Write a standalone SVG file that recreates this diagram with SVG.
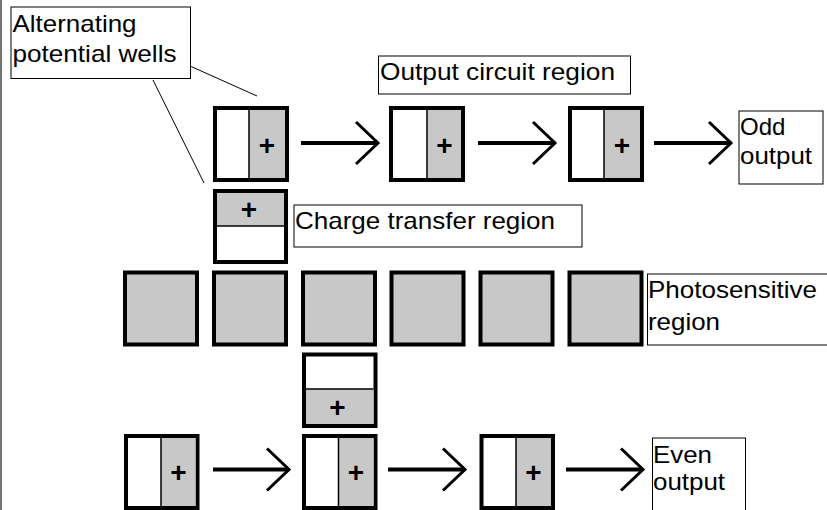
<svg xmlns="http://www.w3.org/2000/svg" width="827" height="510" viewBox="0 0 827 510">
<defs>
<style>
.lbl{fill:#fff;stroke:#000;stroke-width:1}
.t{font-family:"Liberation Sans",Arial,sans-serif;font-size:24px;fill:#000}
.plus{font-family:"Liberation Sans",Arial,sans-serif;font-size:28px;font-weight:bold;fill:#000;text-anchor:middle}
.cell{fill:#fff;stroke:#000;stroke-width:4}
.photo{fill:#c8c8c8;stroke:#000;stroke-width:4}
.gray{fill:#c8c8c8}
.div{stroke:#000;stroke-width:1.5}
.arrow{stroke:#000;stroke-width:4;fill:none;marker-end:url(#chev)}
.leader{stroke:#000;stroke-width:1;fill:none}
</style>
<marker id="chev" markerUnits="userSpaceOnUse" markerWidth="34" markerHeight="52" viewBox="-28 -26 34 52" refX="0" refY="0" orient="auto" overflow="visible">
<path d="M-22,-21 L0,0 L-22,21" fill="none" stroke="#000" stroke-width="3"/>
</marker>
</defs>
<rect width="827" height="510" fill="#fff"/>
<line x1="1" y1="0" x2="1" y2="510" stroke="#444" stroke-width="1.5"/>

<g id="connectors">
<line class="leader" x1="190" y1="66" x2="257" y2="96"/>
<line class="leader" x1="153" y1="80" x2="204" y2="183"/>
<line class="arrow" x1="301" y1="143" x2="378" y2="143"/>
<line class="arrow" x1="478" y1="143" x2="555" y2="143"/>
<line class="arrow" x1="654" y1="143" x2="731" y2="143"/>
<line class="arrow" x1="213" y1="469.5" x2="289" y2="469.5"/>
<line class="arrow" x1="388" y1="469.5" x2="465" y2="469.5"/>
<line class="arrow" x1="566" y1="469.5" x2="643" y2="469.5"/>
</g>

<g id="label-wells">
<rect class="lbl" x="11" y="7" width="179.5" height="71.5"/>
<text class="t" x="12.5" y="32" textLength="124" lengthAdjust="spacingAndGlyphs">Alternating</text>
<text class="t" x="12.5" y="62" textLength="164" lengthAdjust="spacingAndGlyphs">potential wells</text>
</g>
<g id="label-output-circuit">
<rect class="lbl" x="378.5" y="56" width="252" height="38"/>
<text class="t" x="380" y="80" textLength="235" lengthAdjust="spacingAndGlyphs">Output circuit region</text>
</g>
<g id="label-odd">
<rect class="lbl" x="739" y="111" width="84" height="73"/>
<text class="t" x="740" y="135">Odd</text>
<text class="t" x="740" y="164" textLength="72" lengthAdjust="spacingAndGlyphs">output</text>
</g>
<g id="label-charge">
<rect class="lbl" x="294" y="205" width="288" height="42"/>
<text class="t" x="295" y="229" textLength="260" lengthAdjust="spacingAndGlyphs">Charge transfer region</text>
</g>
<g id="label-photo">
<rect class="lbl" x="647.5" y="274" width="185" height="71"/>
<text class="t" x="648" y="298" textLength="169" lengthAdjust="spacingAndGlyphs">Photosensitive</text>
<text class="t" x="648" y="330" textLength="72" lengthAdjust="spacingAndGlyphs">region</text>
</g>
<g id="label-even">
<rect class="lbl" x="652.5" y="438" width="93" height="76"/>
<text class="t" x="653" y="462.5" textLength="59" lengthAdjust="spacingAndGlyphs">Even</text>
<text class="t" x="653" y="490" textLength="72" lengthAdjust="spacingAndGlyphs">output</text>
</g>

<g id="odd-cell-1">
<rect class="cell" x="215" y="108" width="72" height="72"/>
<rect class="gray" x="249" y="110" width="36" height="68"/>
<line class="div" x1="249" y1="110" x2="249" y2="178"/>
<text class="plus" x="267" y="154.5">+</text>
</g>
<g id="odd-cell-2">
<rect class="cell" x="391" y="108" width="72" height="72"/>
<rect class="gray" x="427" y="110" width="34" height="68"/>
<line class="div" x1="427" y1="110" x2="427" y2="178"/>
<text class="plus" x="444.5" y="154.5">+</text>
</g>
<g id="odd-cell-3">
<rect class="cell" x="570" y="108" width="72" height="72"/>
<rect class="gray" x="604" y="110" width="36" height="68"/>
<line class="div" x1="604" y1="110" x2="604" y2="178"/>
<text class="plus" x="622" y="154.5">+</text>
</g>

<g id="transfer-top">
<rect class="cell" x="215" y="191" width="71" height="71"/>
<rect class="gray" x="217" y="193" width="67" height="33"/>
<line class="div" x1="217" y1="226" x2="284" y2="226"/>
<text class="plus" x="249" y="219">+</text>
</g>

<g id="photo-1"><rect class="photo" x="125" y="272.5" width="72" height="72"/></g>
<g id="photo-2"><rect class="photo" x="214" y="272.5" width="72" height="72"/></g>
<g id="photo-3"><rect class="photo" x="303" y="272.5" width="72" height="72"/></g>
<g id="photo-4"><rect class="photo" x="391.5" y="272.5" width="72" height="72"/></g>
<g id="photo-5"><rect class="photo" x="480.5" y="272.5" width="72" height="72"/></g>
<g id="photo-6"><rect class="photo" x="569.5" y="272.5" width="72" height="72"/></g>

<g id="transfer-bottom">
<rect class="cell" x="304" y="354.5" width="71.5" height="71.5"/>
<rect class="gray" x="306" y="389" width="67.5" height="35"/>
<line class="div" x1="306" y1="389" x2="373.5" y2="389"/>
<text class="plus" x="337.5" y="416.5">+</text>
</g>

<g id="even-cell-1">
<rect class="cell" x="126" y="436" width="71.5" height="72"/>
<rect class="gray" x="161" y="438" width="34.5" height="68"/>
<line class="div" x1="161" y1="438" x2="161" y2="506"/>
<text class="plus" x="178.5" y="481.5">+</text>
</g>
<g id="even-cell-2">
<rect class="cell" x="304" y="436" width="71.5" height="72"/>
<rect class="gray" x="338.5" y="438" width="35" height="68"/>
<line class="div" x1="338.5" y1="438" x2="338.5" y2="506"/>
<text class="plus" x="356" y="481.5">+</text>
</g>
<g id="even-cell-3">
<rect class="cell" x="481.5" y="436" width="71.5" height="72"/>
<rect class="gray" x="516" y="438" width="35" height="68"/>
<line class="div" x1="516" y1="438" x2="516" y2="506"/>
<text class="plus" x="533.5" y="481.5">+</text>
</g>
</svg>
